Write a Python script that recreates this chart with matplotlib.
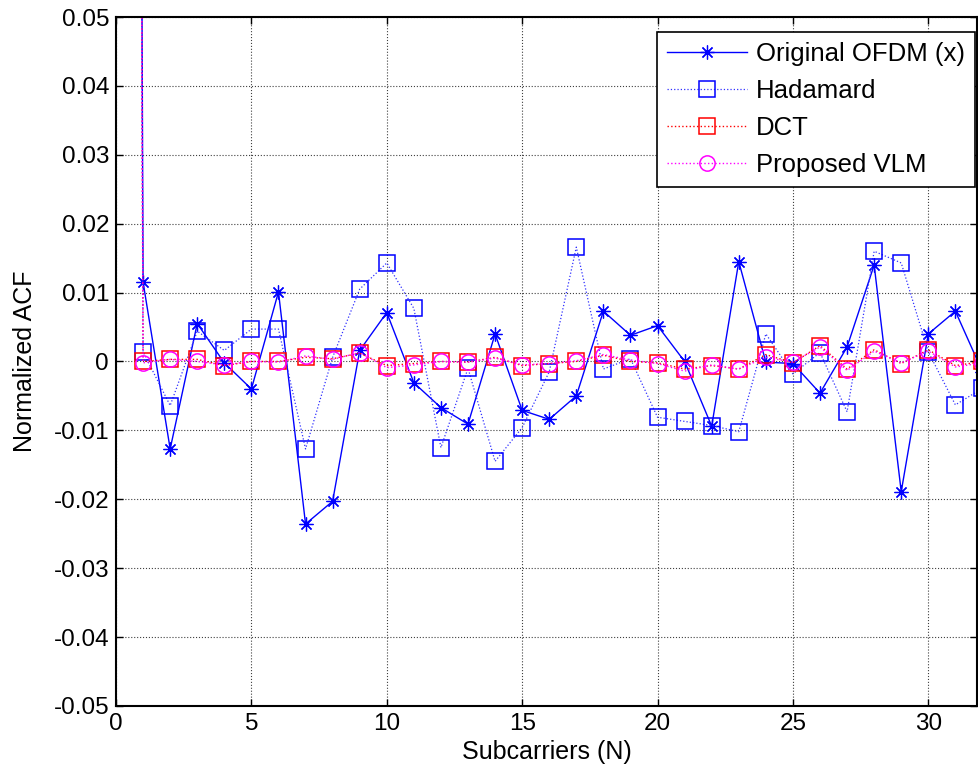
import numpy as np
import matplotlib
matplotlib.use("Agg")
import matplotlib.pyplot as plt
from matplotlib.ticker import FuncFormatter

plt.rcParams['font.family'] = ['Liberation Sans', 'DejaVu Sans']

# subcarrier lag index
lags = np.arange(0, 33)

ofdm = [1.0, 0.0115, -0.0127, 0.0055, -0.0002, -0.0040, 0.0101, -0.0236, -0.0203,
        0.0016, 0.0071, -0.0031, -0.0067, -0.0091, 0.0040, -0.0071, -0.0084,
        -0.0050, 0.0073, 0.0038, 0.0052, 0.0000, -0.0094, 0.0145, -0.0001,
        -0.0003, -0.0046, 0.0021, 0.0140, -0.0189, 0.0040, 0.0073, -0.0015]

hadamard = [1.0, 0.0014, -0.0064, 0.0044, 0.0016, 0.0047, 0.0047, -0.0127, 0.0006,
            0.0105, 0.0143, 0.0077, -0.0125, -0.0010, -0.0145, -0.0096, -0.0015,
            0.0166, -0.0011, 0.0004, -0.0081, -0.0087, -0.0093, -0.0102, 0.0040,
            -0.0018, 0.0013, -0.0073, 0.0160, 0.0143, 0.0014, -0.0063, -0.0039]

dct = [1.0, 0.0000, 0.0003, 0.0003, -0.0006, 0.0000, 0.0000, 0.0006, 0.0004,
       0.0012, -0.0006, -0.0003, 0.0000, -0.0001, 0.0006, -0.0006, -0.0003,
       0.0000, 0.0009, 0.0000, -0.0002, -0.0011, -0.0006, -0.0011, 0.0010,
       -0.0002, 0.0023, -0.0011, 0.0017, -0.0003, 0.0017, -0.0006, 0.0000]

vlm = [1.0, -0.0002, 0.0003, 0.0000, -0.0005, 0.0000, -0.0001, 0.0008, 0.0003,
       0.0013, -0.0009, -0.0005, 0.0000, -0.0001, 0.0005, -0.0005, -0.0003,
       0.0001, 0.0010, 0.0002, -0.0003, -0.0014, -0.0005, -0.0011, 0.0006,
       -0.0001, 0.0021, -0.0013, 0.0015, -0.0002, 0.0015, -0.0008, -0.0002]

labels = ['Original OFDM (x)', 'Hadamard', 'DCT', 'Proposed VLM']

fig = plt.figure(figsize=(9.79, 7.74), dpi=100)
ax = fig.add_axes([0.1185, 0.088, 0.8795, 0.890])

ax.plot(lags, ofdm, '-', color='#0000ff', lw=1.0, marker=(8, 2, 0), ms=10,
        mew=0.9, label=labels[0])
ax.plot(lags, hadamard, ':', color='#3030ff', lw=0.9, marker='s', ms=11,
        mfc='none', mec='#0000ff', mew=1.1, label=labels[1])
ax.plot(lags, dct, ':', color='#ff0000', lw=1.0, marker='s', ms=11,
        mfc='none', mew=1.1, label=labels[2])
ax.plot(lags, vlm, ':', color='#ff00ff', lw=1.0, marker='o', ms=11,
        mfc='none', mew=1.1, label=labels[3])

ax.set_xlim(0, 31.8)
ax.set_ylim(-0.05, 0.05)
ax.set_xticks(np.arange(0, 31, 5))
ax.set_yticks(np.linspace(-0.05, 0.05, 11))
ax.yaxis.set_major_formatter(FuncFormatter(lambda v, p: '0' if abs(v) < 1e-9 else f'{v:.2f}'))

ax.grid(True, ls=':', color='#404040', lw=0.8)
ax.tick_params(direction='in', length=5, width=1, top=True, right=True,
               labelsize=17.5, pad=5)
for s in ax.spines.values():
    s.set_linewidth(1.5)

ax.set_xlabel('Subcarriers (N)', fontsize=18, labelpad=4)
ax.set_ylabel('Normalized ACF', fontsize=18, labelpad=12)

leg = ax.legend(loc='upper right', bbox_to_anchor=(975 / 979, 1 - 32 / 774),
                bbox_transform=fig.transFigure, fontsize=18.5, frameon=True,
                fancybox=False, edgecolor='black', framealpha=1,
                handlelength=3.1, handletextpad=0.35, labelspacing=0.5,
                borderpad=0.4, borderaxespad=0)
leg.get_frame().set_linewidth(1.2)

fig.savefig('out.png', dpi=100)
